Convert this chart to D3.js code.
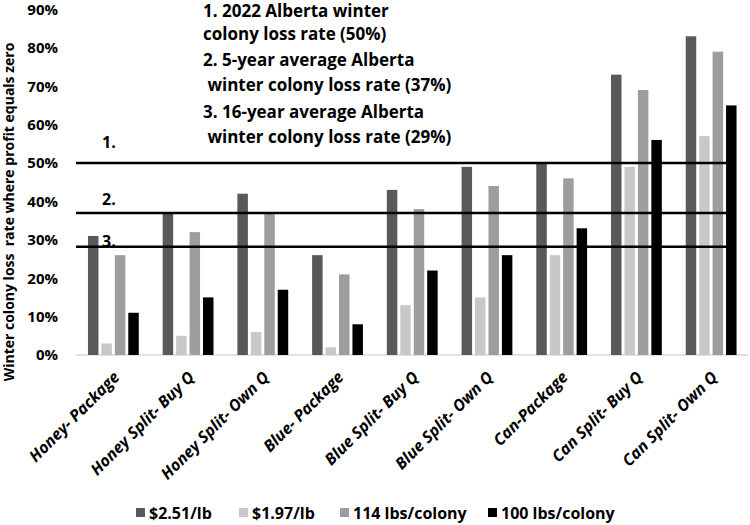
<!DOCTYPE html>
<html>
<head>
<style type="text/css">
body { margin: 0; background: #fff; }
text { font-family: "Open Sans", sans-serif; font-weight: bold; fill: #000; }
.xlab { font-size: 16px; font-style: italic; }
.note { font-size: 17px; }
.legend text { font-size: 16px; }
</style>
<script src="https://d3js.org/d3.v7.min.js"></script>
</head>
<body>
<script type="text/javascript">
var width = 750;
var height = 525;

var categories = ["Honey- Package", "Honey Split- Buy Q", "Honey Split- Own Q", "Blue- Package",
	"Blue Split- Buy Q", "Blue Split- Own Q", "Can-Package", "Can Split- Buy Q", "Can Split- Own Q"];
var seriesNames = ["$2.51/lb", "$1.97/lb", "114 lbs/colony", "100 lbs/colony"];
var colors = ["#58595b", "#c8c8c8", "#9d9d9f", "#000000"];
var price251 = [31, 37, 42, 26, 43, 49, 50, 73, 83];
var price197 = [3, 5, 6, 2, 13, 15, 26, 49, 57];
var yield114 = [26, 32, 37, 21, 38, 44, 46, 69, 79];
var yield100 = [11, 15, 17, 8, 22, 26, 33, 56, 65];
var series = [price251, price197, yield114, yield100];
var refLines = [50, 37, 28.2];
var refLabels = ["1.", "2.", "3."];
var yTicks = [0, 10, 20, 30, 40, 50, 60, 70, 80, 90];
var notes = ["1. 2022 Alberta winter", "colony loss rate (50%)", "2. 5-year average Alberta",
	" winter colony loss rate (37%)", "3. 16-year average Alberta", " winter colony loss rate (29%)"];

var svg = d3.select("body").append("svg").attr("width", width).attr("height", height);

var y = d3.scaleLinear().domain([0, 90]).range([355, 9.4]);
var x0 = d3.scaleBand().domain(categories).range([76, 748.5]).paddingInner(0.32).paddingOuter(0.16);
var x1 = d3.scaleBand().domain(d3.range(4)).range([0, x0.bandwidth()]).paddingInner(0.22);

// y axis labels
var yAxis = d3.axisLeft(y).tickValues(yTicks).tickSize(0).tickPadding(4)
	.tickFormat(function(d) { return d + "%"; });
var ya = svg.append("g").attr("transform", "translate(62,0)").call(yAxis);
ya.select(".domain").remove();
ya.selectAll("text").style("font-family", "'Open Sans', sans-serif").style("font-weight", "bold")
	.style("font-size", "15px").attr("fill", "#000");

// baseline
svg.append("line").attr("x1", 76).attr("x2", 748).attr("y1", y(0)).attr("y2", y(0))
	.attr("stroke", "#d9d9d9").attr("stroke-width", 1.5);

// bars
var groups = svg.selectAll("g.grp").data(categories).enter().append("g")
	.attr("class", "grp")
	.attr("transform", function(d) { return "translate(" + x0(d) + ",0)"; });
groups.selectAll("rect").data(function(d, i) {
	return series.map(function(s, k) { return { k: k, v: s[i] }; });
}).enter().append("rect")
	.attr("x", function(d) { return x1(d.k); })
	.attr("width", x1.bandwidth())
	.attr("y", function(d) { return y(d.v); })
	.attr("height", function(d) { return y(0) - y(d.v); })
	.attr("fill", function(d) { return colors[d.k]; });

// reference lines
svg.selectAll("line.ref").data(refLines).enter().append("line")
	.attr("class", "ref")
	.attr("x1", 76).attr("x2", 727)
	.attr("y1", function(d) { return y(d); }).attr("y2", function(d) { return y(d); })
	.attr("stroke", "#000").attr("stroke-width", 2.5);
svg.selectAll("text.reflab").data(refLabels).enter().append("text")
	.attr("x", 102)
	.attr("y", function(d, i) { return [148, 205, 247][i]; })
	.style("font-size", "16px")
	.text(function(d) { return d; });

// notes
svg.selectAll("text.nt").data(notes).enter().append("text")
	.attr("class", "note")
	.attr("x", 203)
	.attr("y", function(d, i) { return [17, 40, 66, 91, 118, 143][i]; })
	.attr("xml:space", "preserve")
	.style("white-space", "pre")
	.text(function(d) { return d; });

// x labels
svg.selectAll("text.xlab").data(categories).enter().append("text")
	.attr("class", "xlab")
	.attr("text-anchor", "end")
	.attr("transform", function(d) {
		return "translate(" + (x0(d) + x0.bandwidth() / 2 - 1) + ",370) rotate(-45)";
	})
	.attr("dy", "0.72em")
	.text(function(d) { return d; });

// y title
svg.append("text")
	.attr("transform", "translate(14,212) rotate(-90)")
	.attr("text-anchor", "middle")
	.attr("xml:space", "preserve")
	.style("white-space", "pre")
	.style("font-size", "14px")
	.text("Winter colony loss  rate where profit equals zero");

// legend
var legX = [136, 239, 340, 488];
var leg = svg.append("g").attr("class", "legend");
seriesNames.forEach(function(n, i) {
	leg.append("rect").attr("x", legX[i]).attr("y", 508).attr("width", 9).attr("height", 9)
		.attr("fill", colors[i]);
	leg.append("text").attr("x", legX[i] + 13).attr("y", 519).text(n);
});
</script>
</body>
</html>
